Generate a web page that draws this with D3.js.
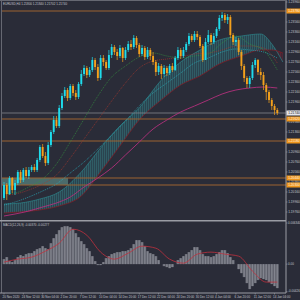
<!DOCTYPE html>
<html>
<head>
<meta charset="utf-8">
<script src="https://cdnjs.cloudflare.com/ajax/libs/d3/7.8.5/d3.min.js"></script>
<style>
body { margin: 0; background: #2a2c38; }
svg { display: block; }
text { font-family: "Liberation Sans", Arial, sans-serif; }
</style>
</head>
<body>
<div id="chart"></div>
<script>

// candles (H4), open of first bar then opens follow previous close
var firstOpen = 1.2004;
var closes = [1.2030,1.2012,1.2044,1.2020,1.2034,1.2056,1.2040,1.2060,1.2048,1.2060,
1.2066,1.2060,1.2080,1.2106,1.2088,1.2074,1.2110,1.2136,1.2160,1.2148,
1.2184,1.2208,1.2220,1.2204,1.2228,1.2214,1.2206,1.2232,1.2252,1.2264,
1.2250,1.2260,1.2280,1.2266,1.2244,1.2284,1.2276,1.2264,1.2290,1.2306,
1.2296,1.2288,1.2304,1.2284,1.2300,1.2312,1.2306,1.2324,1.2310,1.2292,
1.2304,1.2286,1.2300,1.2288,1.2276,1.2256,1.2268,1.2252,1.2264,1.2254,
1.2268,1.2260,1.2284,1.2300,1.2288,1.2300,1.2312,1.2328,1.2320,1.2332,
1.2326,1.2308,1.2280,1.2316,1.2330,1.2316,1.2328,1.2342,1.2364,1.2370,
1.2360,1.2366,1.2330,1.2316,1.2320,1.2296,1.2268,1.2244,1.2232,1.2244,
1.2270,1.2280,1.2256,1.2250,1.2230,1.2216,1.2200,1.2188,1.2180,1.2174];
var highs = [1.2036,1.2034,1.2048,1.2046,1.2040,1.2060,1.2060,1.2064,1.2066,1.2066,
1.2070,1.2072,1.2084,1.2110,1.2112,1.2096,1.2116,1.2140,1.2168,1.2168,
1.2190,1.2214,1.2226,1.2224,1.2232,1.2232,1.2220,1.2236,1.2260,1.2270,
1.2268,1.2266,1.2286,1.2284,1.2272,1.2290,1.2290,1.2280,1.2300,1.2312,
1.2310,1.2302,1.2310,1.2306,1.2306,1.2318,1.2320,1.2330,1.2328,1.2314,
1.2310,1.2308,1.2306,1.2304,1.2296,1.2280,1.2274,1.2272,1.2270,1.2268,
1.2272,1.2274,1.2288,1.2306,1.2304,1.2306,1.2316,1.2334,1.2332,1.2338,
1.2338,1.2330,1.2312,1.2324,1.2340,1.2334,1.2334,1.2346,1.2370,1.2376,
1.2374,1.2372,1.2370,1.2334,1.2326,1.2324,1.2300,1.2272,1.2248,1.2248,
1.2276,1.2284,1.2282,1.2264,1.2256,1.2234,1.2220,1.2204,1.2192,1.2184];
var lows = [1.2000,1.2000,1.2010,1.2014,1.2010,1.2030,1.2034,1.2036,1.2044,1.2042,
1.2056,1.2056,1.2056,1.2076,1.2084,1.2068,1.2070,1.2106,1.2132,1.2144,
1.2144,1.2180,1.2204,1.2198,1.2200,1.2208,1.2200,1.2202,1.2228,1.2248,
1.2244,1.2246,1.2256,1.2260,1.2238,1.2240,1.2268,1.2260,1.2260,1.2284,
1.2290,1.2280,1.2284,1.2276,1.2280,1.2296,1.2300,1.2302,1.2304,1.2286,
1.2288,1.2280,1.2282,1.2280,1.2270,1.2248,1.2250,1.2242,1.2246,1.2248,
1.2250,1.2256,1.2258,1.2280,1.2282,1.2284,1.2296,1.2308,1.2316,1.2316,
1.2320,1.2304,1.2276,1.2280,1.2312,1.2310,1.2312,1.2324,1.2338,1.2358,
1.2354,1.2352,1.2324,1.2310,1.2308,1.2290,1.2260,1.2236,1.2224,1.2224,
1.2240,1.2264,1.2250,1.2240,1.2220,1.2200,1.2194,1.2180,1.2170,1.2170];

// moving averages, read every ~5 bars
var maIdx = [0,4,9,14,19,24,29,34,39,44,49,54,59,64,69,74,79,84,89,94,99];
var maGreen = [1.2012,1.2014,1.2026,1.2042,1.2072,1.2116,1.2162,1.2208,1.2246,1.2268,1.2286,1.2294,1.2288,1.2284,1.2288,1.2292,1.2314,1.2328,1.2312,1.2300,1.2260];
var maRed = [1.2010,1.2012,1.2020,1.2032,1.2050,1.2084,1.2122,1.2160,1.2198,1.2234,1.2264,1.2278,1.2282,1.2286,1.2292,1.2294,1.2300,1.2308,1.2308,1.2304,1.2274];
var maCyan = [1.1990,1.1996,1.2006,1.2018,1.2032,1.2054,1.2076,1.2102,1.2130,1.2158,1.2188,1.2214,1.2234,1.2254,1.2274,1.2284,1.2296,1.2302,1.2300,1.2296,1.2284];
var maMagenta = [1.1968,1.1972,1.1978,1.1986,1.1994,1.2006,1.2026,1.2044,1.2064,1.2090,1.2116,1.2142,1.2160,1.2176,1.2188,1.2200,1.2212,1.2220,1.2224,1.2226,1.2224];

// cloud
var cloudIdx = [0,6,13,20,28,35,42,49,57,64,71,78,86,93,97,101];
var spanA = [1.1992,1.1994,1.2002,1.2016,1.2056,1.2104,1.2148,1.2184,1.2240,1.2276,1.2300,1.2320,1.2328,1.2332,1.2312,1.2276];
var spanB = [1.1974,1.1976,1.1980,1.1988,1.2008,1.2056,1.2108,1.2160,1.2200,1.2230,1.2248,1.2272,1.2288,1.2300,1.2300,1.2294];

// horizontal levels and zone
var levels = [1.2378, 1.2162, 1.2118, 1.2044, 1.2030];
var zonePrices = [1.2044, 1.2030];
var zoneBars = [-0.8, 23.2];

// MACD
var macdHist = [0.00077,0.00108,0.00046,0.00031,0.00062,0.00108,0.00139,0.00123,0.00154,0.00169,
0.00169,0.00200,0.00231,0.00246,0.00277,0.00246,0.00231,0.00323,0.00400,0.00462,
0.00524,0.00570,0.00585,0.00585,0.00570,0.00539,0.00477,0.00416,0.00354,0.00308,
0.00246,0.00200,0.00123,0.00046,-0.00015,-0.00015,0.00031,0.00092,0.00123,0.00154,
0.00169,0.00185,0.00185,0.00200,0.00200,0.00216,0.00246,0.00308,0.00370,0.00370,
0.00339,0.00277,0.00200,0.00169,0.00154,0.00123,0.00062,0.00000,-0.00031,-0.00046,
-0.00062,-0.00046,0.00000,0.00062,0.00092,0.00123,0.00154,0.00185,0.00216,0.00262,
0.00262,0.00216,0.00154,0.00123,0.00123,0.00108,0.00123,0.00154,0.00185,0.00216,
0.00216,0.00169,0.00108,0.00062,0.00000,-0.00077,-0.00139,-0.00200,-0.00293,-0.00385,
-0.00339,-0.00293,-0.00246,-0.00216,-0.00231,-0.00246,-0.00277,-0.00308,-0.00339,-0.00370];
var signalIdx = [0,5,10,15,20,25,30,35,40,45,50,55,60,65,70,75,80,85,90,95,99];
var signal = [0.00031,0.00077,0.00108,0.00200,0.00323,0.00539,0.00447,0.00185,0.00077,0.00169,0.00277,0.00246,0.00077,0.00015,0.00154,0.00185,0.00154,0.00123,-0.00108,-0.00277,-0.00277];

// axis labels
var priceTicks = [1.2396,1.2376,1.2356,1.2336,1.2316,1.2296,1.2276,1.2256,1.2236,1.2216,1.2196,
1.2176,1.2156,1.2136,1.2116,1.2096,1.2076,1.2056,1.2036,1.2016,1.1996,1.1976];
var macdTicks = [0.00634, 0, -0.00426];
var macdTickLabels = ["0.006340", "0.00", "-0.00426"];
var timeLabels = ["20 Nov 2020","24 Nov 12:00","30 Nov 04:00","2 Dec 20:00","7 Dec 12:00",
"10 Dec 04:00","14 Dec 20:00","17 Dec 12:00","22 Dec 04:00","24 Dec 20:00","30 Dec 12:00",
"4 Jan 04:00","6 Jan 20:00","11 Jan 12:00","14 Jan 04:00"];
var timeStep = 7;

var bg = "#2a2c38", axisCol = "#9a9ca4", txtCol = "#c4c6cc";
var bull = "#1fdcec", bear = "#f3a01c";
var mainTop = 1, mainBot = 220, subTop = 221.5, subBot = 293, axisX = 286;

var svg = d3.select("#chart").append("svg")
      .attr("width", 300)
      .attr("height", 300);
svg.append("rect").attr("width", 300).attr("height", 300).attr("fill", bg);

var x = d3.scaleLinear().domain([0, 99]).range([4, 277.3]);
var y = d3.scaleLinear().domain([1.2400, 1.1962]).range([0, 219]);
var ym = d3.scaleLinear().domain([-0.0043, 0.0065]).range([292, 222]);

var opens = [firstOpen].concat(closes.slice(0, closes.length - 1));
var cloud = cloudIdx.map(function (d, i) { return { i: d, a: spanA[i], b: spanB[i] }; });

var defs = svg.append("defs");
defs.append("clipPath").attr("id", "clipMain").append("rect")
      .attr("x", 2).attr("y", mainTop).attr("width", axisX - 2).attr("height", mainBot - mainTop);
defs.append("clipPath").attr("id", "clipSub").append("rect")
      .attr("x", 2).attr("y", subTop).attr("width", axisX - 2).attr("height", subBot - subTop);

var cv = d3.curveMonotoneX;
defs.append("clipPath").attr("id", "belowA").append("path")
      .attr("d", d3.area().curve(cv).x(d => x(d.i)).y0(d => y(d.a)).y1(mainBot)(cloud));
defs.append("clipPath").attr("id", "belowB").append("path")
      .attr("d", d3.area().curve(cv).x(d => x(d.i)).y0(d => y(d.b)).y1(mainBot)(cloud));

var hatchT = defs.append("pattern").attr("id", "hatchT")
      .attr("patternUnits", "userSpaceOnUse").attr("width", 2).attr("height", 2);
hatchT.append("rect").attr("width", 2).attr("height", 2).attr("fill", "#2a6670").attr("opacity", 0.4);
hatchT.append("rect").attr("width", 0.7).attr("height", 2).attr("fill", "#3fa7ac").attr("opacity", 0.35);
var hatchR = defs.append("pattern").attr("id", "hatchR")
      .attr("patternUnits", "userSpaceOnUse").attr("width", 2).attr("height", 2);
hatchR.append("rect").attr("width", 2).attr("height", 2).attr("fill", "#5a2030").attr("opacity", 0.5);
hatchR.append("rect").attr("width", 0.7).attr("height", 2).attr("fill", "#8a2834").attr("opacity", 0.5);

var main = svg.append("g").attr("clip-path", "url(#clipMain)");

// cloud fill
main.append("g").attr("clip-path", "url(#belowA)").append("path")
      .attr("d", d3.area().curve(cv).x(d => x(d.i)).y0(mainTop).y1(d => y(d.b))(cloud))
      .attr("fill", "url(#hatchT)");
main.append("g").attr("clip-path", "url(#belowB)").append("path")
      .attr("d", d3.area().curve(cv).x(d => x(d.i)).y0(mainTop).y1(d => y(d.a))(cloud))
      .attr("fill", "url(#hatchR)");
main.append("path")
      .attr("d", d3.line().curve(cv).x(d => x(d.i)).y(d => y(d.a))(cloud))
      .attr("fill", "none").attr("stroke", "#2a8f94").attr("stroke-width", 0.6);
main.append("path")
      .attr("d", d3.line().curve(cv).x(d => x(d.i)).y(d => y(d.b))(cloud))
      .attr("fill", "none").attr("stroke", "#7e1c26").attr("stroke-width", 0.8);

// zone box
main.append("rect")
      .attr("x", x(zoneBars[0])).attr("y", y(zonePrices[0]))
      .attr("width", x(zoneBars[1]) - x(zoneBars[0]))
      .attr("height", y(zonePrices[1]) - y(zonePrices[0]))
      .attr("fill", "#7ccbb8").attr("opacity", 0.4);

// levels
levels.forEach(function (p) {
      main.append("line")
            .attr("x1", 2).attr("x2", axisX)
            .attr("y1", y(p)).attr("y2", y(p))
            .attr("stroke", "#9c6230").attr("stroke-width", 1);
});
main.append("line")
      .attr("x1", 2).attr("x2", axisX)
      .attr("y1", y(closes[closes.length - 1])).attr("y2", y(closes[closes.length - 1]))
      .attr("stroke", "#83858e").attr("stroke-width", 0.8);

// moving averages
function drawMA(vals, color, dash, w) {
      var pts = maIdx.map(function (d, i) { return [x(d), y(vals[i])]; });
      main.append("path")
            .attr("d", d3.line().curve(cv)(pts))
            .attr("fill", "none")
            .attr("stroke", color)
            .attr("stroke-width", w)
            .attr("stroke-dasharray", dash);
}
drawMA(maMagenta, "#b2307c", null, 0.9);
drawMA(maCyan, "#2ab0c0", "1,1", 0.7);
drawMA(maRed, "#a8362c", "1,1", 0.7);
drawMA(maGreen, "#35933f", "1,1", 0.7);

// candles
for (var i = 0; i < closes.length; i++) {
      var up = closes[i] >= opens[i];
      var col = up ? bull : bear;
      main.append("line")
            .attr("x1", x(i)).attr("x2", x(i))
            .attr("y1", y(highs[i])).attr("y2", y(lows[i]))
            .attr("stroke", col).attr("stroke-width", 0.7);
      var bodyTop = y(Math.max(opens[i], closes[i]));
      var bodyH = Math.abs(y(opens[i]) - y(closes[i]));
      main.append("rect")
            .attr("x", x(i) - 0.95).attr("y", bodyTop)
            .attr("width", 1.9).attr("height", Math.max(bodyH, 0.6))
            .attr("fill", col);
}

// MACD panel
var sub = svg.append("g").attr("clip-path", "url(#clipSub)");
sub.selectAll("rect.hist").data(macdHist).enter().append("rect")
      .attr("class", "hist")
      .attr("x", (d, i) => x(i) - 1.4)
      .attr("width", 2.8)
      .attr("y", d => Math.min(ym(d), ym(0)))
      .attr("height", d => Math.abs(ym(d) - ym(0)))
      .attr("fill", "#6c6e78");
sub.selectAll("line.hist").data(macdHist).enter().append("line")
      .attr("x1", (d, i) => x(i)).attr("x2", (d, i) => x(i))
      .attr("y1", d => ym(d)).attr("y2", ym(0))
      .attr("stroke", "#9a9ca6").attr("stroke-width", 0.5);
sub.append("path")
      .attr("d", d3.line().curve(cv)(signalIdx.map((d, i) => [x(d), ym(signal[i])])))
      .attr("fill", "none").attr("stroke", "#c0303e").attr("stroke-width", 0.8);

// frame
svg.append("line").attr("x1", axisX).attr("x2", axisX).attr("y1", 0).attr("y2", subBot)
      .attr("stroke", axisCol).attr("stroke-width", 1);
svg.append("line").attr("x1", 1.5).attr("x2", 1.5).attr("y1", 0).attr("y2", subBot)
      .attr("stroke", "#666872").attr("stroke-width", 1);
svg.append("line").attr("x1", 0).attr("x2", axisX).attr("y1", 0.5).attr("y2", 0.5)
      .attr("stroke", "#666872").attr("stroke-width", 1);
svg.append("line").attr("x1", 0).attr("x2", axisX).attr("y1", 220.7).attr("y2", 220.7)
      .attr("stroke", axisCol).attr("stroke-width", 1.4);
svg.append("line").attr("x1", 0).attr("x2", axisX).attr("y1", subBot).attr("y2", subBot)
      .attr("stroke", axisCol).attr("stroke-width", 1);

// price axis
var fs = 3.2;
priceTicks.forEach(function (p) {
      svg.append("line").attr("x1", axisX).attr("x2", axisX + 1.5)
            .attr("y1", y(p)).attr("y2", y(p)).attr("stroke", axisCol).attr("stroke-width", 0.6);
      svg.append("text").attr("x", axisX + 2.2).attr("y", y(p) + 1.1)
            .attr("font-size", fs).attr("fill", txtCol).text(p.toFixed(5));
});
macdTicks.forEach(function (v, i) {
      svg.append("line").attr("x1", axisX).attr("x2", axisX + 1.5)
            .attr("y1", ym(v)).attr("y2", ym(v)).attr("stroke", axisCol).attr("stroke-width", 0.6);
      svg.append("text").attr("x", axisX + 2).attr("y", Math.min(ym(v) + 1.1, 291.5))
            .attr("font-size", 3).attr("fill", txtCol).text(macdTickLabels[i]);
});

function priceBox(p, fill, tcol) {
      svg.append("rect").attr("x", axisX + 0.5).attr("y", y(p) - 2.5)
            .attr("width", 13.5).attr("height", 5).attr("fill", fill);
      svg.append("text").attr("x", axisX + 2.2).attr("y", y(p) + 1.1)
            .attr("font-size", fs).attr("fill", tcol).text(p.toFixed(5));
}
levels.forEach(function (p) { priceBox(p, "#ee951c", "#fff6e6"); });
priceBox(closes[closes.length - 1], "#e4e4e8", "#111");

// time axis
timeLabels.forEach(function (t, k) {
      var xi = x(k * timeStep);
      svg.append("line").attr("x1", xi).attr("x2", xi).attr("y1", subBot).attr("y2", subBot + 1.5)
            .attr("stroke", axisCol).attr("stroke-width", 0.6);
      svg.append("text").attr("x", xi - 1.5).attr("y", 297.5)
            .attr("font-size", 3).attr("fill", txtCol).text(t);
});

// captions
svg.append("text").attr("x", 3).attr("y", 4.5).attr("font-size", 3).attr("fill", txtCol)
      .text("EURUSD,H4  1.21800 1.21840 1.21702 1.21740");
svg.append("text").attr("x", 3).attr("y", 225.5).attr("font-size", 3).attr("fill", txtCol)
      .text("MACD(12,26,9) -0.00370 -0.00277");

</script>
</body>
</html>
